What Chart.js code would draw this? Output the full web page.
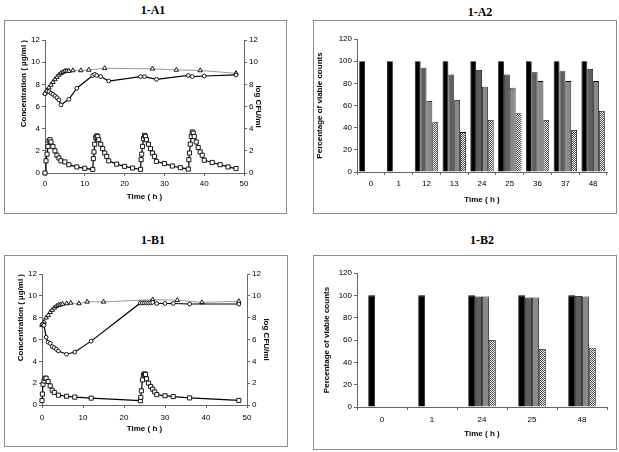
<!DOCTYPE html>
<html>
<head>
<meta charset="utf-8">
<script src="https://cdn.jsdelivr.net/npm/chart.js@4.4.0/dist/chart.umd.min.js"></script>
<style>
  body { margin: 0; background: #fff; }
  #page { position: relative; width: 619px; height: 452px; overflow: hidden; }
  .box { position: absolute; border: 1px solid #8c8c8c; box-sizing: border-box; }
  .panel-title { position: absolute; font-family: 'Liberation Serif', 'Times New Roman', serif; font-weight: bold; font-size: 12px; transform: translate(-50%, -50%); white-space: nowrap; }
  canvas { position: absolute; }
</style>
</head>
<body>
<div id="page">
  <div class="panel-title" style="left:153px;top:10px">1-A1</div>
  <div class="panel-title" style="left:480px;top:12px">1-A2</div>
  <div class="panel-title" style="left:153px;top:240px">1-B1</div>
  <div class="panel-title" style="left:482px;top:240px">1-B2</div>

  <div class="box" style="left:4px;top:20px;width:283px;height:194px"></div>
  <div class="box" style="left:313px;top:20px;width:304px;height:194px"></div>
  <div class="box" style="left:4px;top:255px;width:284px;height:192px"></div>
  <div class="box" style="left:313px;top:255px;width:304px;height:195px"></div>

  <canvas id="chartA1" width="283" height="194" style="left:4px;top:20px"></canvas>
  <canvas id="chartA2" width="304" height="194" style="left:313px;top:20px"></canvas>
  <canvas id="chartB1" width="284" height="192" style="left:4px;top:255px"></canvas>
  <canvas id="chartB2" width="304" height="195" style="left:313px;top:255px"></canvas>
</div>
<script>
// ---- 1-A1 : concentration (squares) and log CFU/ml (triangles, circles)
const a1ConcTime = [0, 0.25, 0.5, 0.75, 1, 1.25, 1.5, 2, 2.5, 3, 3.5, 4, 5, 6, 8, 10, 12,
    12.15, 12.3, 12.5, 12.75, 13, 13.25, 13.5, 14, 14.5, 15, 15.5, 16, 18, 20, 22, 24,
    24.15, 24.3, 24.5, 24.75, 25, 25.25, 25.5, 26, 26.5, 27, 27.5, 28, 30, 32, 34, 36,
    36.15, 36.3, 36.5, 36.75, 37, 37.25, 37.5, 38, 38.5, 39, 39.5, 40, 42, 44, 46, 48];
const a1Conc = [0, 1.1, 1.7, 2.4, 2.9, 3.0, 2.8, 2.4, 2.0, 1.6, 1.35, 1.1, 1.0, 0.75, 0.55, 0.42, 0.32,
    1.3, 1.9, 2.6, 3.2, 3.35, 3.3, 3.0, 2.6, 2.2, 1.8, 1.5, 1.1, 0.8, 0.6, 0.45, 0.33,
    1.2, 1.7, 2.4, 3.1, 3.4, 3.3, 3.0, 2.6, 2.2, 1.8, 1.5, 1.05, 0.85, 0.63, 0.48, 0.35,
    1.2, 1.8, 2.6, 3.3, 3.7, 3.6, 3.3, 2.8, 2.3, 1.9, 1.6, 1.15, 0.95, 0.75, 0.55, 0.4];
const a1TriTime = [0, 0.5, 1, 1.5, 2, 2.5, 3, 3.5, 4, 4.5, 5, 5.5, 6, 7, 9, 11, 15, 27, 33, 39, 48];
const a1Tri = [7.2, 7.45, 7.7, 7.95, 8.2, 8.45, 8.65, 8.85, 9.0, 9.1, 9.2, 9.2, 9.2, 9.25, 9.25, 9.3, 9.45, 9.4, 9.3, 9.25, 9.0];
const a1CirTime = [0, 0.5, 1, 1.5, 2, 2.5, 3, 3.5, 4, 6, 8, 12, 12.5, 13, 14, 16, 24, 25, 28, 36, 37, 40, 48];
const a1Cir = [7.15, 7.4, 7.35, 7.2, 7.1, 6.95, 6.8, 6.6, 6.15, 6.65, 7.65, 8.8, 8.9, 8.8, 8.7, 8.3, 8.7, 8.7, 8.45, 8.8, 8.7, 8.75, 8.85];

// ---- 1-B1
const b1ConcTime = [0, 0.1, 0.25, 0.5, 0.75, 1, 1.5, 2, 2.5, 3, 4, 6, 8, 12, 24,
    24.1, 24.25, 24.5, 24.75, 25, 25.25, 25.5, 26, 26.5, 27, 27.5, 28, 30, 32, 36, 48];
const b1Conc = [0.4, 1.0, 1.9, 2.2, 2.45, 2.45, 2.15, 1.75, 1.35, 1.15, 0.9, 0.8, 0.72, 0.63, 0.4,
    0.7, 1.3, 2.3, 2.75, 2.85, 2.8, 2.4, 2.0, 1.7, 1.45, 1.2, 0.95, 0.85, 0.77, 0.65, 0.42];
const b1TriTime = [0, 0.5, 1, 1.5, 2, 2.5, 3, 3.5, 4, 4.5, 5, 6, 7, 9, 11, 15, 27, 33, 39, 48];
const b1Tri = [7.3, 7.6, 8.0, 8.2, 8.5, 8.7, 8.9, 9.05, 9.15, 9.2, 9.25, 9.3, 9.35, 9.3, 9.45, 9.45, 9.65, 9.6, 9.4, 9.5];
const b1CirTime = [0, 0.25, 0.5, 1, 1.5, 2, 2.5, 3, 3.5, 4, 6, 8, 12, 24, 24.5, 25, 25.5, 26, 26.5, 27, 28, 30, 32, 36, 48];
const b1Cir = [7.35, 7.4, 7.3, 6.2, 5.75, 5.65, 5.35, 5.25, 5.1, 4.95, 4.65, 4.85, 5.85, 9.35, 9.35, 9.35, 9.35, 9.35, 9.35, 9.4, 9.3, 9.3, 9.3, 9.25, 9.25];

// ---- 1-A2 : percentage of viable counts
const a2Times = ['0', '1', '12', '13', '24', '25', '36', '37', '48'];
const a2Black = [100, 100, 100, 100, 100, 100, 100, 100, 100];
const a2Dark = [0, 0, 94, 88, 92, 88, 90, 91, 93];
const a2Grey = [0, 0, 64, 65, 77, 76, 82, 82, 82];
const a2Hatch = [0, 0, 45, 36, 47, 53, 47, 38, 55];

// ---- 1-B2
const b2Times = ['0', '1', '24', '25', '48'];
const b2Black = [100, 100, 100, 100, 100];
const b2Dark = [0, 0, 99, 98, 99.5];
const b2Grey = [0, 0, 99, 98, 99];
const b2Hatch = [0, 0, 60, 52, 53];

const sans = "'Liberation Sans', Arial, sans-serif";
const tickFont = { family: sans, size: 8 };
const titleFont = { family: sans, size: 8, weight: 'bold' };
const axisGrey = '#666';

function pts(times, values) {
    return times.map((t, i) => ({ x: t, y: values[i] }));
}

function hatchPattern() {
    const c = document.createElement('canvas');
    c.width = 2; c.height = 2;
    const g = c.getContext('2d');
    g.fillStyle = '#f2f2f2'; g.fillRect(0, 0, 2, 2);
    g.fillStyle = '#505050'; g.fillRect(0, 0, 1, 1); g.fillRect(1, 1, 1, 1);
    return g.createPattern(c, 'repeat');
}

function markerSet(data, axis, style, radius, lineColor, lineWidth) {
    return {
        data: data, yAxisID: axis,
        borderColor: lineColor, borderWidth: lineWidth,
        pointStyle: style, pointRadius: radius,
        pointBackgroundColor: '#fff', pointBorderColor: '#000', pointBorderWidth: 0.9,
        tension: 0, clip: 8
    };
}

function timeCourse(id, conc, tri, cir, L) {
    new Chart(document.getElementById(id), {
        type: 'line',
        data: {
            datasets: [
                markerSet(conc, 'y', 'rect', 2.9, '#000', 1.2),
                markerSet(cir, 'y2', 'circle', 1.9, '#000', 1.2),
                markerSet(tri, 'y2', 'triangle', 2.6, '#808080', 0.8)
            ]
        },
        options: {
            responsive: false,
            animation: false,
            layout: { padding: { top: L.top, left: 0, right: 0, bottom: 0 } },
            plugins: { legend: { display: false }, tooltip: { enabled: false } },
            scales: {
                x: {
                    type: 'linear', min: 0, max: 50,
                    ticks: { stepSize: 10, font: tickFont, color: '#000', padding: L.xTickPad, maxRotation: 0 },
                    grid: { drawOnChartArea: false, tickLength: 3, color: axisGrey },
                    border: { color: axisGrey },
                    title: { display: true, text: 'Time ( h )', font: titleFont, color: '#000', padding: { top: 0, bottom: L.xTitlePad } },
                    afterFit: s => { s.height = L.bottomH; }
                },
                y: {
                    position: 'left', min: 0, max: 12,
                    ticks: { stepSize: 2, font: tickFont, color: '#000', padding: 2 },
                    grid: { drawOnChartArea: false, tickLength: 3, color: axisGrey },
                    border: { color: axisGrey },
                    title: { display: true, text: 'Concentration ( µg/ml )', align: 'end', font: titleFont, color: '#000', padding: { top: L.leftTitlePad, bottom: 0 } },
                    afterFit: s => { s.width = L.leftW; }
                },
                y2: {
                    position: 'right', min: 0, max: 12,
                    ticks: { stepSize: 2, font: tickFont, color: '#000', padding: 2 },
                    grid: { drawOnChartArea: false, tickLength: 3, color: axisGrey },
                    border: { color: axisGrey },
                    title: { display: true, text: 'log CFU/ml', font: titleFont, color: '#000', padding: { top: L.rightTitlePad, bottom: 0 } },
                    afterFit: s => { s.width = L.rightW; }
                }
            }
        }
    });
}

function viableCounts(id, cats, black, dark, grey, hatch, L) {
    const bar = (values, fill) => ({ data: values, backgroundColor: fill, borderColor: '#000', borderWidth: 0.8 });
    new Chart(document.getElementById(id), {
        type: 'bar',
        data: {
            labels: cats,
            datasets: [bar(black, '#000'), bar(dark, '#5e5e5e'), bar(grey, '#8a8a8a'), bar(hatch, hatchPattern())]
        },
        options: {
            responsive: false,
            animation: false,
            layout: { padding: { top: L.top, left: 0, right: L.right, bottom: 0 } },
            datasets: { bar: { categoryPercentage: L.catPct, barPercentage: 1 } },
            plugins: { legend: { display: false }, tooltip: { enabled: false } },
            scales: {
                x: {
                    ticks: { font: tickFont, color: '#000', padding: L.xTickPad, maxRotation: 0 },
                    grid: { drawOnChartArea: false, tickLength: 3, color: axisGrey },
                    border: { color: axisGrey },
                    title: { display: true, text: 'Time ( h )', font: titleFont, color: '#000', padding: { top: 0, bottom: L.xTitlePad } },
                    afterFit: s => { s.height = L.bottomH; }
                },
                y: {
                    min: 0, max: 120,
                    ticks: { stepSize: 20, font: tickFont, color: '#000', padding: 2 },
                    grid: { drawOnChartArea: false, tickLength: 3, color: axisGrey },
                    border: { color: axisGrey },
                    title: { display: true, text: 'Percentage of viable counts', font: titleFont, color: '#000', padding: { top: L.yTitlePad, bottom: 0 } },
                    afterFit: s => { s.width = L.leftW; }
                }
            }
        }
    });
}

timeCourse('chartA1', pts(a1ConcTime, a1Conc), pts(a1TriTime, a1Tri), pts(a1CirTime, a1Cir),
    { top: 20, leftW: 41, rightW: 43, bottomH: 41, xTickPad: 3, xTitlePad: 12, leftTitlePad: 15, rightTitlePad: 24 });

timeCourse('chartB1', pts(b1ConcTime, b1Conc), pts(b1TriTime, b1Tri), pts(b1CirTime, b1Cir),
    { top: 19, leftW: 38, rightW: 41, bottomH: 42, xTickPad: 5, xTitlePad: 13, leftTitlePad: 12, rightTitlePad: 16.5 });

viableCounts('chartA2', a2Times, a2Black, a2Dark, a2Grey, a2Hatch,
    { top: 19, right: 10, leftW: 44, bottomH: 42, catPct: 0.84, xTickPad: 4, xTitlePad: 9, yTitlePad: 1.5 });

viableCounts('chartB2', b2Times, b2Black, b2Dark, b2Grey, b2Hatch,
    { top: 18, right: 10, leftW: 44, bottomH: 43, catPct: 0.55, xTickPad: 5, xTitlePad: 11, yTitlePad: 9 });
</script>
</body>
</html>
